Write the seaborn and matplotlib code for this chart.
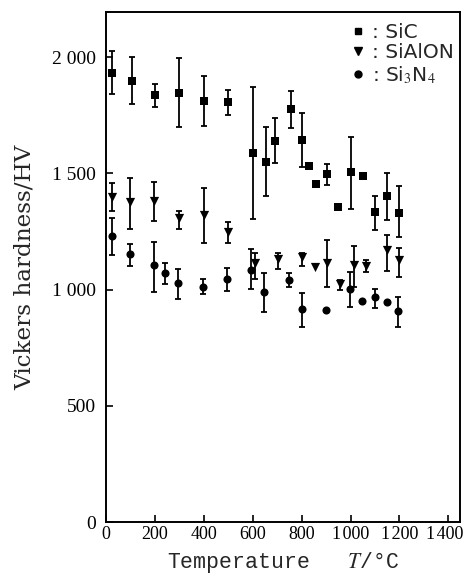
import numpy as np
import pandas as pd
import matplotlib
matplotlib.use("Agg")
import matplotlib.pyplot as plt
import matplotlib.transforms as mtrans
import seaborn as sns
from matplotlib.lines import Line2D
from matplotlib.ticker import FuncFormatter

# ---- data ----
sic_T = [25, 105, 200, 300, 400, 500, 600, 655, 690, 755, 800, 830, 860, 905, 950, 1000, 1050, 1100, 1150, 1200]
sic_hv = [1932, 1897, 1837, 1847, 1812, 1805, 1586, 1547, 1637, 1775, 1643, 1531, 1454, 1497, 1353, 1504, 1488, 1335, 1402, 1330]
sic_lo = [1841, 1796, 1786, 1700, 1705, 1749, 1303, 1402, 1543, 1693, 1528, np.nan, np.nan, 1449, np.nan, 1345, np.nan, 1256, 1299, 1225]
sic_hi = [2026, 1999, 1885, 1996, 1918, 1858, 1872, 1700, 1738, 1854, 1759, np.nan, np.nan, 1540, np.nan, 1655, np.nan, 1402, 1500, 1445]

sialon_T = [25, 100, 195, 298, 400, 500, 610, 705, 800, 855, 905, 955, 1015, 1065, 1150, 1200]
sialon_hv = [1399, 1377, 1381, 1306, 1320, 1249, 1112, 1133, 1140, 1097, 1115, 1024, 1105, 1101, 1170, 1127]
sialon_lo = [1339, 1259, 1296, 1259, 1201, 1198, 1047, 1090, 1101, np.nan, 1009, 998, 1009, 1077, 1081, 1052]
sialon_hi = [1457, 1481, 1461, 1339, 1435, 1289, 1155, 1155, 1155, np.nan, 1215, 1041, 1187, 1127, 1234, 1180]

si3n4_T = [23, 100, 196, 241, 296, 398, 496, 591, 647, 750, 803, 900, 998, 1045, 1100, 1150, 1195]
si3n4_hv = [1231, 1151, 1105, 1072, 1027, 1012, 1045, 1084, 988, 1041, 916, 912, 1001, 951, 966, 948, 909]
si3n4_lo = [1148, 1101, 991, 1024, 958, 981, 995, 1001, 904, 1012, 838, np.nan, 926, np.nan, 919, np.nan, 838]
si3n4_hi = [1306, 1196, 1205, 1115, 1088, 1044, 1091, 1173, 1072, 1069, 983, np.nan, 1077, np.nan, 1001, np.nan, 969]

materials = ["SiC", "SiAlON", "Si$_3$N$_4$"]
x_ticks = [0, 200, 400, 600, 800, 1000, 1200, 1400]
y_ticks = [0, 500, 1000, 1500, 2000]

series = [
    (materials[0], sic_T, sic_hv, sic_lo, sic_hi),
    (materials[1], sialon_T, sialon_hv, sialon_lo, sialon_hi),
    (materials[2], si3n4_T, si3n4_hv, si3n4_lo, si3n4_hi),
]

frames = []
for name, T, hv, lo, hi in series:
    frames.append(pd.DataFrame({"T": T, "HV": hv, "lo": lo, "hi": hi, "material": name}))
df = pd.concat(frames, ignore_index=True)

sns.set_theme(style="white")
plt.rcParams["font.family"] = ["Liberation Serif", "DejaVu Serif"]
plt.rcParams["mathtext.fontset"] = "stix"

fig = plt.figure(figsize=(4.65, 5.77), dpi=100)
ax = fig.add_axes([0.228, 0.0953, 0.761, 0.884])

# error bars
for name, T, hv, lo, hi in series:
    sub = df[(df["material"] == name) & df["lo"].notna()]
    ax.errorbar(sub["T"], sub["HV"],
                yerr=[sub["HV"] - sub["lo"], sub["hi"] - sub["HV"]],
                fmt="none", ecolor="black", elinewidth=1.3, capsize=2.0, capthick=1.3, zorder=2)

markers = {materials[0]: "s", materials[1]: "v", materials[2]: "o"}
sizes = {materials[0]: 30, materials[1]: 44, materials[2]: 34}
for name in materials:
    sub = df[df["material"] == name]
    sns.scatterplot(data=sub, x="T", y="HV", marker=markers[name], color="black",
                    s=sizes[name], edgecolor="black", linewidth=0, ax=ax, zorder=3, legend=False)

ax.set_xlim(0, 1447)
ax.set_ylim(0, 2194)
ax.set_xticks(x_ticks)
ax.set_yticks(y_ticks)

def fmt_x(v, pos):
    v = int(v)
    if v >= 1000:
        return f"{v // 1000}\u200a{v % 1000:03d}"
    return str(v)

def fmt_y(v, pos):
    v = int(v)
    if v >= 1000:
        return f"{v // 1000} {v % 1000:03d}"
    return str(v)

ax.xaxis.set_major_formatter(FuncFormatter(fmt_x))
ax.yaxis.set_major_formatter(FuncFormatter(fmt_y))
ax.tick_params(axis="both", direction="in", length=5, width=1.2, colors="black",
               top=False, right=False, left=True, bottom=True)
ax.tick_params(axis="x", pad=3, labelsize=13)
ax.tick_params(axis="y", pad=7, labelsize=14)
for sp in ax.spines.values():
    sp.set_color("black")
    sp.set_linewidth(1.4)

# nudge the last x tick label so it stays inside the figure
fig.canvas.draw()
last = ax.get_xticklabels()[-1]
last.set_transform(last.get_transform() + mtrans.ScaledTranslation(-4 / 100, 0, fig.dpi_scale_trans))

ax.set_xlabel("Temperature   $T$/°C", fontsize=15.5, labelpad=5,
              family=["Liberation Mono", "DejaVu Sans Mono"])
ax.set_ylabel("Vickers hardness/HV", fontsize=16.7, labelpad=12, family=["DejaVu Serif"])

handles = [Line2D([], [], linestyle="none", marker=markers[n], color="black",
                  markersize=s) for n, s in zip(materials, [5, 6, 5])]
labels = [": " + n for n in materials]
leg = ax.legend(handles, labels, loc="upper right", frameon=False,
                handlelength=0.8, handletextpad=0.3, labelspacing=0.08,
                borderaxespad=0.0, borderpad=0.2, bbox_to_anchor=(0.995, 0.987),
                prop={"family": "DejaVu Sans", "size": 14.5})

fig.savefig("out.png", dpi=100)
